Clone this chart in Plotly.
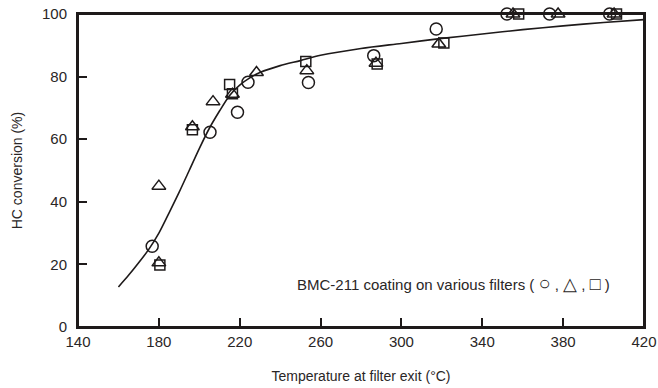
import plotly.graph_objects as go

# Data
circle_x = [176.7, 205.3, 218.9, 224.1, 254.0, 286.3, 317.2, 352.2, 373.3, 403.0]
circle_y = [25.8, 62.2, 68.6, 78.2, 78.1, 86.7, 95.2, 100.0, 100.0, 100.0]

tri_x = [180.0, 180.0, 196.6, 206.8, 216.4, 228.3, 253.2, 287.4, 318.5, 355.2, 377.5, 405.2]
tri_y = [45.0, 20.5, 64.0, 72.0, 74.4, 81.3, 81.9, 84.3, 90.4, 100.0, 100.0, 100.0]

sq_x = [180.5, 196.6, 215.0, 216.4, 252.7, 288.0, 321.0, 358.0, 406.4]
sq_y = [19.8, 63.0, 77.5, 74.5, 84.8, 84.0, 90.7, 100.0, 100.0]

curve_x = [160, 165, 170, 175, 180, 185, 190, 195, 200, 205, 210, 215, 220, 225,
           230, 240, 250, 260, 280, 300, 320, 340, 360, 380, 400, 420]
curve_y = [12.8, 16.5, 20.5, 24.8, 30.0, 36.4, 43.0, 50.0, 57.0, 63.5, 69.0, 74.0,
           77.3, 79.6, 81.3, 83.5, 85.1, 86.8, 89.0, 90.6, 92.2, 93.6, 95.0, 96.2,
           97.3, 98.2]

x_ticks = [140, 180, 220, 260, 300, 340, 380, 420]
y_ticks = [0, 20, 40, 60, 80, 100]

INK = "#1e1a1a"
TXT = "#2a2626"
FONT = "Liberation Sans, Arial, sans-serif"

fig = go.Figure()

fig.add_trace(go.Scatter(x=curve_x, y=curve_y, mode="lines",
                         line=dict(color=INK, width=1.6, shape="spline", smoothing=0.8),
                         hoverinfo="skip", showlegend=False))

marker_line = dict(color=INK, width=1.5)
fig.add_trace(go.Scatter(x=sq_x, y=sq_y, mode="markers", cliponaxis=False,
                         marker=dict(symbol="square-open", size=10, color=INK, line=marker_line),
                         showlegend=False))
fig.add_trace(go.Scatter(x=tri_x, y=tri_y, mode="markers", cliponaxis=False,
                         marker=dict(symbol="triangle-up-open", size=12, color=INK, line=marker_line),
                         showlegend=False))
fig.add_trace(go.Scatter(x=circle_x, y=circle_y, mode="markers", cliponaxis=False,
                         marker=dict(symbol="circle-open", size=12, color=INK, line=marker_line),
                         showlegend=False))

sym = '<span style="font-size:18px">'
big = '<span style="font-size:20px">'
fig.add_annotation(x=404, y=14, xref="x", yref="y", xanchor="right", yanchor="middle",
                   text=("BMC-211 coating on various filters ( " + big + "\u25cb</span> , "
                         + sym + "\u25b3</span> , " + sym + "\u25a1</span> )"),
                   showarrow=False, font=dict(family=FONT, size=15, color=TXT))

# frame (top and right edges without ticks)
fig.add_shape(type="rect", xref="paper", yref="paper", x0=0, x1=1, y0=0, y1=1,
              line=dict(color=INK, width=2), fillcolor="rgba(0,0,0,0)", layer="above")

axis_common = dict(showline=True, linewidth=2, linecolor=INK, mirror=True,
                   ticks="inside", ticklen=9, tickwidth=2, tickcolor=INK,
                   showgrid=False, zeroline=False,
                   tickfont=dict(family=FONT, size=15, color=TXT),
                   title_font=dict(family=FONT, size=14, color=TXT))

fig.update_xaxes(range=[140, 420], tickvals=x_ticks, ticktext=[str(v) for v in x_ticks],
                 title_text="Temperature at filter exit (\u00b0C)", title_standoff=22,
                 automargin=False, **axis_common)
fig.update_yaxes(range=[0, 100], tickvals=y_ticks, ticktext=[str(v) + "\u2009\u2009" for v in y_ticks],
                 title_text="HC conversion (%)", title_standoff=16,
                 automargin=False, **axis_common)

fig.update_layout(width=658, height=388, margin=dict(l=78, r=14, t=14, b=61),
                  paper_bgcolor="white", plot_bgcolor="white",
                  font=dict(family=FONT, color=TXT))

fig.write_html("out.html")
